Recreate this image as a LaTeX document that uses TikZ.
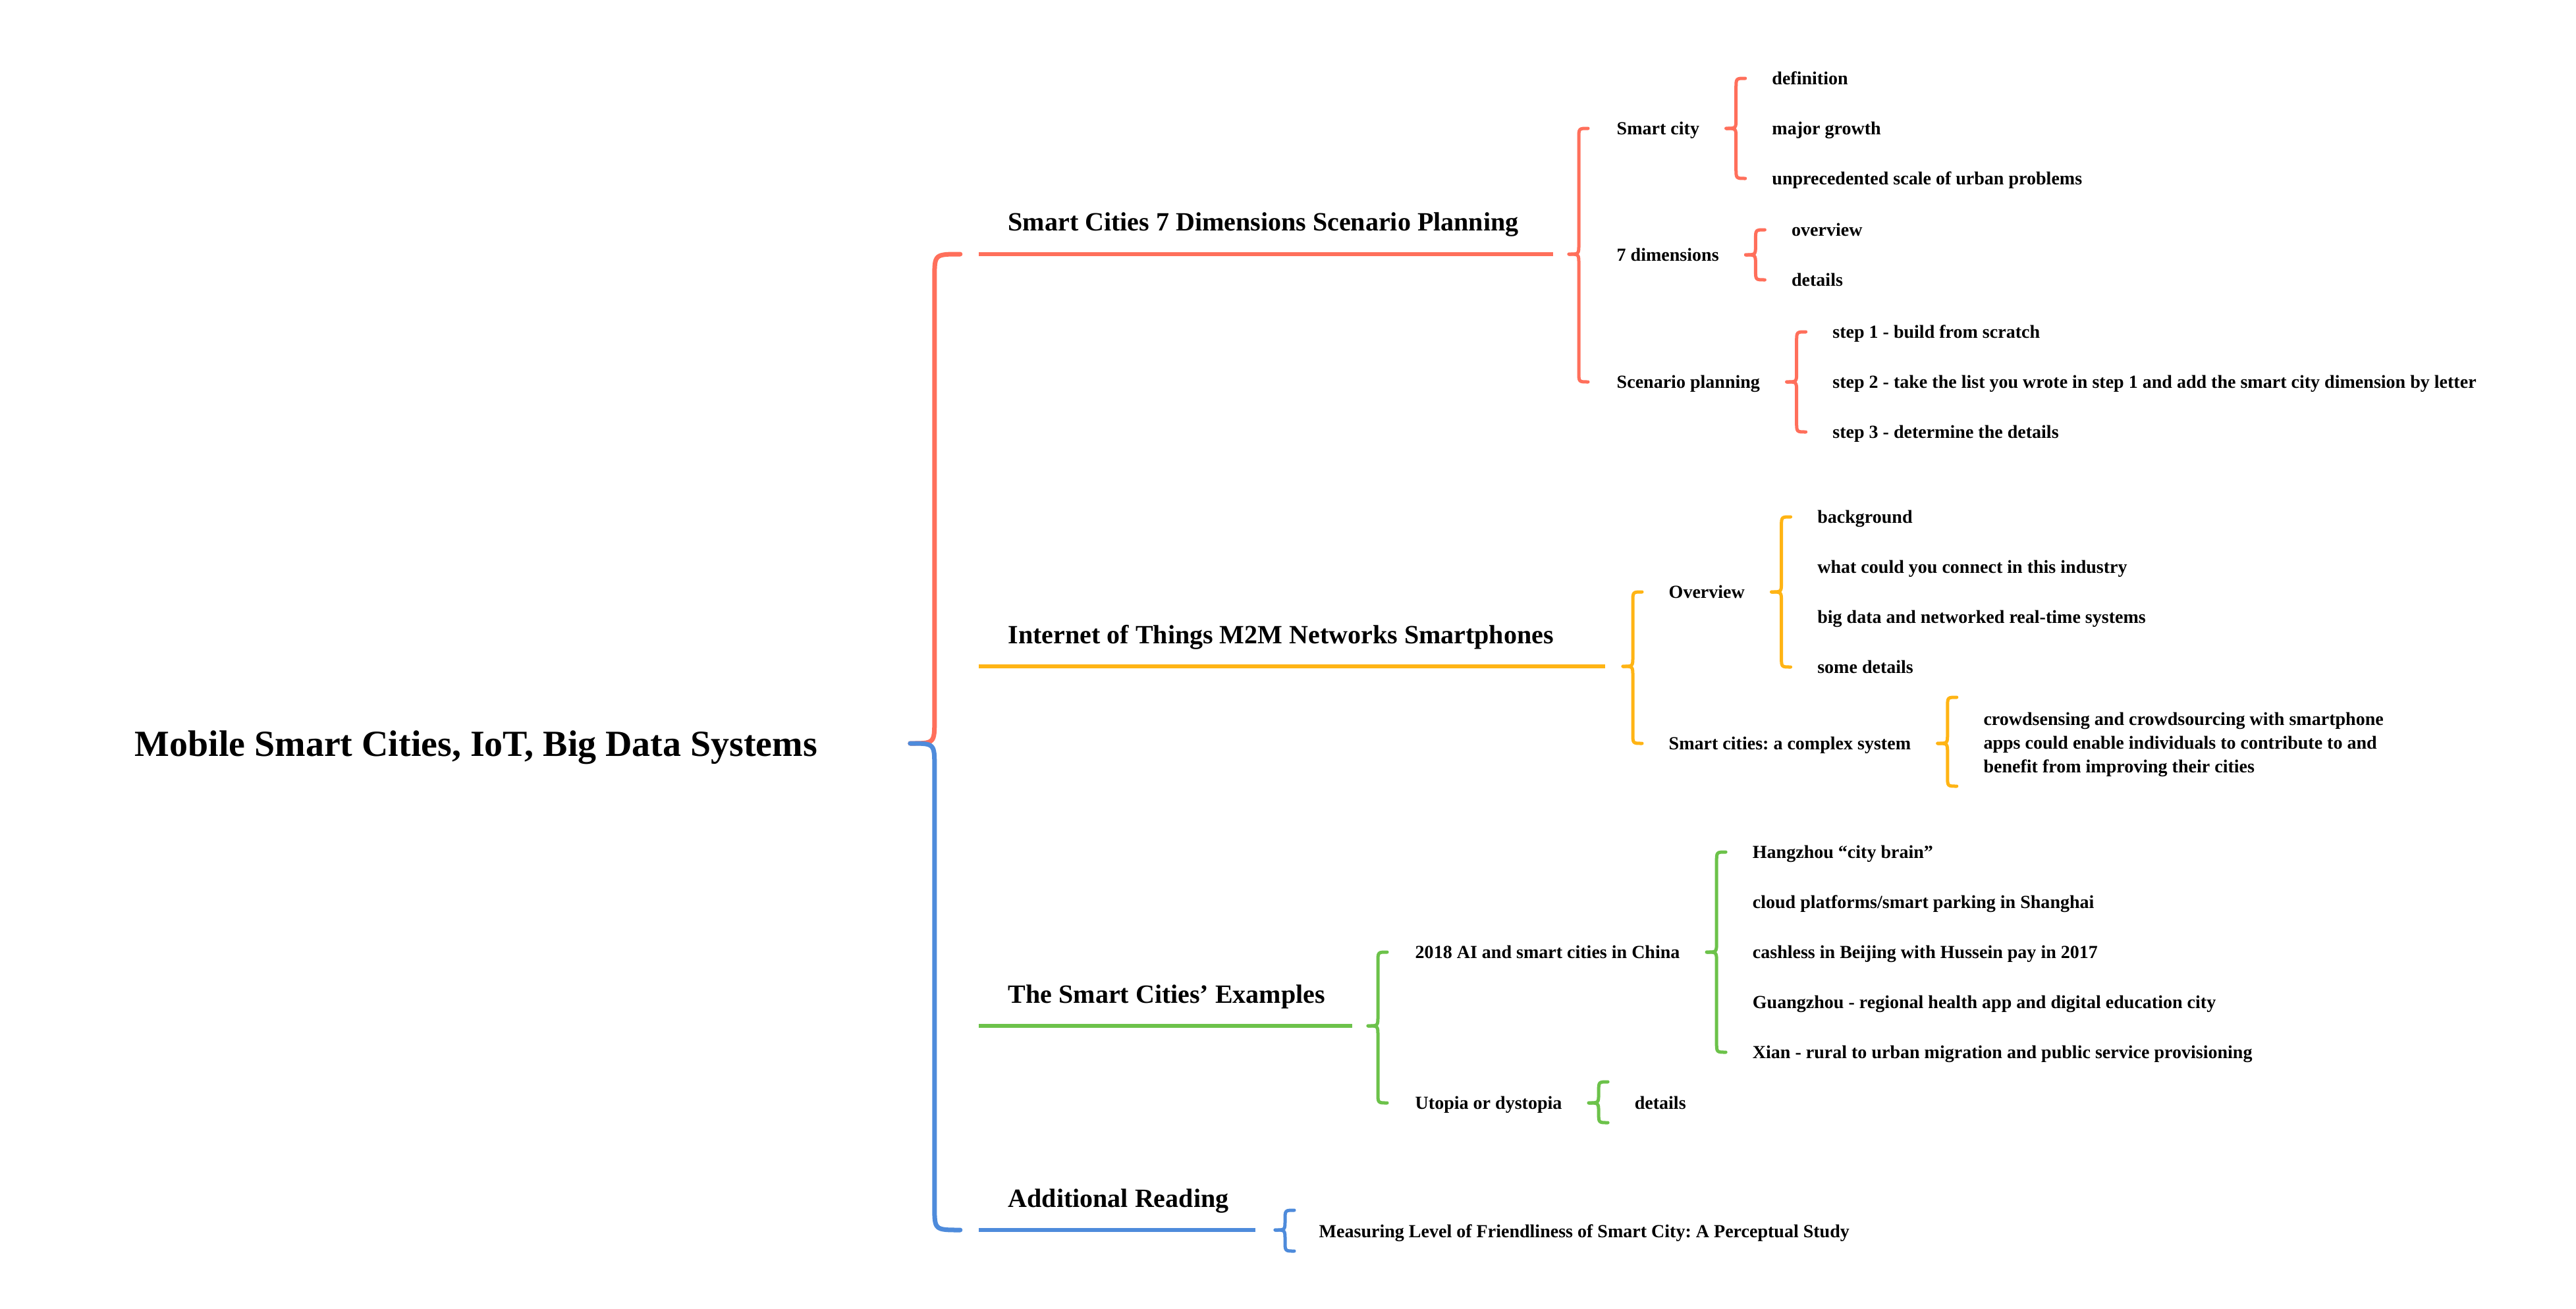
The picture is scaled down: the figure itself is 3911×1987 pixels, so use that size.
\documentclass[tikz,border=0pt]{standalone}
\usepackage{fontspec}
\setmainfont{Liberation Serif}
\usetikzlibrary{calc,positioning}
\frenchspacing

\definecolor{mmred}{HTML}{FF6F5B}
\definecolor{mmyellow}{HTML}{FFB414}
\definecolor{mmgreen}{HTML}{6CC24A}
\definecolor{mmblue}{HTML}{4E8BDB}

% curly fork: upper style, lower style, start, gap, top, bottom
\newcommand{\brv}{15}
\newcommand{\bre}{29}
\newcommand{\brc}{15}
\newcommand{\mmbrace}[6]{%
  \coordinate (tip) at ($(#3)+(#4,0)$);
  \draw[#1] ($(tip |- #5)+(\bre,0)$) .. controls ($(tip |- #5)+(\brv,0)$) .. ($(tip |- #5)+(\brv,\brc)$)
    -- ($(tip)+(\brv,-\brc)$) .. controls ($(tip)+(\brv,0)$) .. (tip);
  \draw[#2] (tip) .. controls ($(tip)+(\brv,0)$) .. ($(tip)+(\brv,\brc)$)
    -- ($(tip |- #6)+(\brv,-\brc)$) .. controls ($(tip |- #6)+(\brv,0)$) .. ($(tip |- #6)+(\bre,0)$);
}

\begin{document}
\begin{tikzpicture}[x=0.01cm, y=-0.01cm,
    rootnode/.style={font=\fontsize{15.9}{19}\selectfont\bfseries, inner sep=0, text height=0.4cm, text depth=0.02cm, anchor=west},
    topic/.style={font=\fontsize{11.38}{13.7}\selectfont\bfseries, inner sep=0, anchor=base west},
    leaf/.style={font=\fontsize{7.97}{10.24}\selectfont\bfseries, inner sep=0, text height=0.2cm, text depth=0.02cm, anchor=west},
    para/.style={font=\fontsize{7.97}{10.24}\selectfont\bfseries, inner sep=0, align=left, anchor=west},
    bigfork/.style={line width=0.07cm, line cap=round},
    fork/.style={line width=0.05cm, line cap=round},
    bar/.style={line width=0.055cm}]
    \useasboundingbox (0,0) rectangle (3911,1987);

    % Root
    \node[rootnode] (root) at (204,1129) {Mobile Smart Cities, IoT, Big Data Systems};

    % Smart Cities 7 Dimensions Scenario Planning
    \node[topic] (scenario) at (1530,350) {Smart Cities 7 Dimensions Scenario Planning};
    \coordinate (scenarioL) at (1486,386);
    \coordinate (scenarioR) at (2358,386);
    \draw[bar, mmred] (scenarioL) -- (scenarioR);

    \node[leaf] (smartcity) at (2454,195) {Smart city};
    \node[leaf] (definition) at ($(smartcity.east)+(109,-76)$) {definition};
    \node[leaf] (growth) at ($(smartcity.east)+(109,0)$) {major growth};
    \node[leaf] (urban) at ($(smartcity.east)+(109,76)$) {unprecedented scale of urban problems};

    \node[leaf] (dimensions) at (2454,387) {7 dimensions};
    \node[leaf] (dimover) at ($(dimensions.east)+(109,-38)$) {overview};
    \node[leaf] (dimdetails) at ($(dimensions.east)+(109,38)$) {details};

    \node[leaf] (planning) at (2454,580) {Scenario planning};
    \node[leaf] (stepone) at ($(planning.east)+(109,-76)$) {step 1 - build from scratch};
    \node[leaf] (steptwo) at ($(planning.east)+(109,0)$) {step 2 - take the list you wrote in step 1 and add the smart city dimension by letter};
    \node[leaf] (stepthree) at ($(planning.east)+(109,76)$) {step 3 - determine the details};

    % Internet of Things M2M Networks Smartphones
    \node[topic] (iot) at (1530,977) {Internet of Things M2M Networks Smartphones};
    \coordinate (iotL) at (1486,1012);
    \coordinate (iotR) at (2437,1012);
    \draw[bar, mmyellow] (iotL) -- (iotR);

    \node[leaf] (overview) at (2533,899) {Overview};
    \node[leaf] (background) at ($(overview.east)+(109,-114)$) {background};
    \node[leaf] (connect) at ($(overview.east)+(109,-38)$) {what could you connect in this industry};
    \node[leaf] (bigdata) at ($(overview.east)+(109,38)$) {big data and networked real-time systems};
    \node[leaf] (somedetails) at ($(overview.east)+(109,114)$) {some details};

    \node[leaf] (complex) at (2533,1129) {Smart cities: a complex system};
    \node[para] (crowd) at ($(complex.east)+(109,2)$) {crowdsensing and crowdsourcing with smartphone\\apps could enable individuals to contribute to and\\benefit from improving their cities};
    \coordinate (crowdtop) at ($(crowd.west)+(0,-72)$);
    \coordinate (crowdbot) at ($(crowd.west)+(0,63)$);

    % The Smart Cities' Examples
    \node[topic] (examples) at (1530,1523) {The Smart Cities’ Examples};
    \coordinate (examplesL) at (1486,1558);
    \coordinate (examplesR) at (2053,1558);
    \draw[bar, mmgreen] (examplesL) -- (examplesR);

    \node[leaf] (china) at (2148,1446) {2018 AI and smart cities in China};
    \node[leaf] (hangzhou) at ($(china.east)+(109,-152)$) {Hangzhou “city brain”};
    \node[leaf] (shanghai) at ($(china.east)+(109,-76)$) {cloud platforms/smart parking in Shanghai};
    \node[leaf] (beijing) at ($(china.east)+(109,0)$) {cashless in Beijing with Hussein pay in 2017};
    \node[leaf] (guangzhou) at ($(china.east)+(109,76)$) {Guangzhou - regional health app and digital education city};
    \node[leaf] (xian) at ($(china.east)+(109,152)$) {Xian - rural to urban migration and public service provisioning};

    \node[leaf] (utopia) at (2148,1675) {Utopia or dystopia};
    \node[leaf] (utopiadetails) at ($(utopia.east)+(109,0)$) {details};
    \coordinate (utopiatop) at ($(utopiadetails.west)+(0,-32)$);
    \coordinate (utopiabot) at ($(utopiadetails.west)+(0,30)$);

    % Additional Reading
    \node[topic] (reading) at (1530,1833) {Additional Reading};
    \coordinate (readingL) at (1486,1868);
    \coordinate (readingR) at (1906,1868);
    \draw[bar, mmblue] (readingL) -- (readingR);

    \node[leaf] (measuring) at (2002,1870) {Measuring Level of Friendliness of Smart City: A Perceptual Study};
    \coordinate (measuringtop) at ($(measuring.west)+(0,-32)$);
    \coordinate (measuringbot) at ($(measuring.west)+(0,30)$);

    % Connections
    \begin{scope}
        \def\brv{37}\def\bre{76}\def\brc{36}
        \mmbrace{bigfork, mmred}{bigfork, mmblue}{root.east}{140}{scenarioL}{readingL}
    \end{scope}

    \mmbrace{fork, mmred}{fork, mmred}{scenarioR}{24}{smartcity.west}{planning.west}
    \mmbrace{fork, mmred}{fork, mmred}{smartcity.east}{40}{definition.west}{urban.west}
    \mmbrace{fork, mmred}{fork, mmred}{dimensions.east}{40}{dimover.west}{dimdetails.west}
    \mmbrace{fork, mmred}{fork, mmred}{planning.east}{40}{stepone.west}{stepthree.west}

    \mmbrace{fork, mmyellow}{fork, mmyellow}{iotR}{27}{overview.west}{complex.west}
    \mmbrace{fork, mmyellow}{fork, mmyellow}{overview.east}{40}{background.west}{somedetails.west}
    \mmbrace{fork, mmyellow}{fork, mmyellow}{complex.east}{40}{crowdtop}{crowdbot}

    \mmbrace{fork, mmgreen}{fork, mmgreen}{examplesR}{24}{china.west}{utopia.west}
    \mmbrace{fork, mmgreen}{fork, mmgreen}{china.east}{40}{hangzhou.west}{xian.west}
    \mmbrace{fork, mmgreen}{fork, mmgreen}{utopia.east}{40}{utopiatop}{utopiabot}

    \mmbrace{fork, mmblue}{fork, mmblue}{readingR}{30}{measuringtop}{measuringbot}
\end{tikzpicture}
\end{document}
